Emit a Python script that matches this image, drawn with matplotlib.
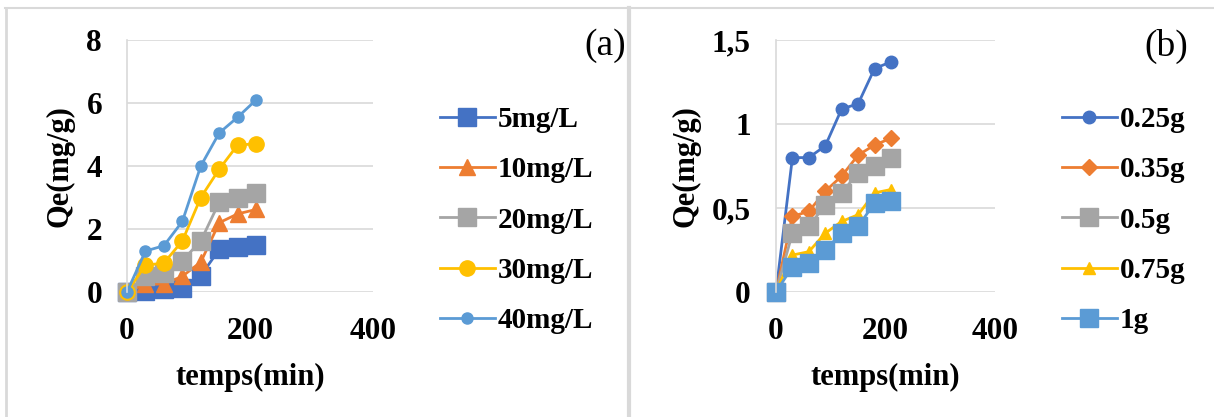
import numpy as np
import matplotlib
matplotlib.use("Agg")
import matplotlib.pyplot as plt
from matplotlib.lines import Line2D

plt.rcParams['font.family'] = ['Liberation Serif', 'DejaVu Serif']

# temps de contact (min)
temps = [0, 30, 60, 90, 120, 150, 180, 210]

# (a) effet de la concentration initiale
conc_labels = ['5mg/L', '10mg/L', '20mg/L', '30mg/L', '40mg/L']
qe_5 = [0, 0.02, 0.08, 0.12, 0.52, 1.35, 1.42, 1.5]
qe_10 = [0, 0.25, 0.25, 0.5, 0.95, 2.2, 2.48, 2.62]
qe_20 = [0, 0.5, 0.6, 1.0, 1.62, 2.85, 3.0, 3.15]
qe_30 = [0, 0.85, 0.92, 1.62, 3.0, 3.9, 4.67, 4.7]
qe_40 = [0, 1.3, 1.47, 2.24, 4.0, 5.05, 5.55, 6.1]

# (b) effet de la masse d'adsorbant
masse_labels = ['0.25g', '0.35g', '0.5g', '0.75g', '1g']
qe_025 = [0, 0.8, 0.8, 0.87, 1.09, 1.12, 1.33, 1.37]
qe_035 = [0, 0.45, 0.48, 0.6, 0.69, 0.815, 0.875, 0.915]
qe_05 = [0, 0.35, 0.39, 0.52, 0.59, 0.71, 0.75, 0.8]
qe_075 = [0, 0.22, 0.24, 0.35, 0.42, 0.46, 0.59, 0.61]
qe_1 = [0, 0.15, 0.17, 0.25, 0.35, 0.39, 0.53, 0.54]

blue = '#4472C4'
orange = '#ED7D31'
gray = '#A5A5A5'
yellow = '#FFC000'
lblue = '#5B9BD5'
grid_c = '#D9D9D9'

W, H = 1214, 417
fig = plt.figure(figsize=(W / 100, H / 100), dpi=100)

# cadres gris des deux graphiques
fig.add_artist(Line2D([5 / W, 1], [1 - 8 / H, 1 - 8 / H], color=grid_c, lw=1.5))
fig.add_artist(Line2D([6 / W, 6 / W], [0, 1 - 8 / H], color=grid_c, lw=2))
fig.add_artist(Line2D([629 / W, 629 / W], [0, 1 - 8 / H], color=grid_c, lw=3))


def make_axes(x0, x1, y0, y1):
    ax = fig.add_axes([x0 / W, 1 - y1 / H, (x1 - x0) / W, (y1 - y0) / H])
    for s in ['top', 'right', 'bottom']:
        ax.spines[s].set_visible(False)
    ax.spines['left'].set_color(grid_c)
    ax.spines['left'].set_linewidth(1.2)
    ax.grid(axis='y', color=grid_c, lw=1.2)
    ax.set_axisbelow(True)
    ax.tick_params(length=0, labelsize=22.5, pad=18)
    ax.set_xlim(0, 400)
    ax.set_xticks([0, 200, 400])
    ax.set_xlabel('temps(min)', fontsize=22, fontweight='bold')
    ax.set_ylabel('Qe(mg/g)', fontsize=22, fontweight='bold')
    ax.xaxis.set_label_coords(0.5, -0.28)
    return ax


leg_kw = dict(loc='center left', frameon=False,
              prop={'size': 21, 'weight': 'bold'}, handlelength=1.9,
              handletextpad=0.1, labelspacing=0.8, borderaxespad=0)

# ---- (a)
ax1 = make_axes(127, 373, 40, 292)
series_a = [(qe_5, blue, 's', 13), (qe_10, orange, '^', 12),
            (qe_20, gray, 's', 13), (qe_30, yellow, 'o', 11),
            (qe_40, lblue, 'o', 8)]
for (y, c, m, ms), lab in zip(series_a, conc_labels):
    ax1.plot(temps, y, color=c, marker=m, ms=ms, lw=2, label=lab, clip_on=False)
ax1.set_ylim(0, 8)
ax1.set_yticks([0, 2, 4, 6, 8])
for lab in ax1.get_xticklabels() + ax1.get_yticklabels():
    lab.set_fontweight('bold')
ax1.yaxis.set_label_coords(-0.215, 0.5)
ax1.legend(bbox_to_anchor=(428 / W, 1 - 220 / H),
           bbox_transform=fig.transFigure, **leg_kw)
fig.text(605 / W, 1 - 46 / H, '(a)', fontsize=27, ha='center', va='center')

# ---- (b)
ax2 = make_axes(776, 995, 40, 292)
series_b = [(qe_025, blue, 'o', 9), (qe_035, orange, 'D', 8.5),
            (qe_05, gray, 's', 13), (qe_075, yellow, '^', 9),
            (qe_1, lblue, 's', 13)]
for (y, c, m, ms), lab in zip(series_b, masse_labels):
    ax2.plot(temps, y, color=c, marker=m, ms=ms, lw=2, label=lab, clip_on=False)
ax2.set_ylim(0, 1.5)
ax2.set_yticks([0, 0.5, 1, 1.5])
ax2.set_yticklabels(['0', '0,5', '1', '1,5'])
for lab in ax2.get_xticklabels() + ax2.get_yticklabels():
    lab.set_fontweight('bold')
ax2.yaxis.set_label_coords(-0.345, 0.5)
ax2.legend(bbox_to_anchor=(1050 / W, 1 - 220 / H),
           bbox_transform=fig.transFigure, **leg_kw)
fig.text(1166 / W, 1 - 46 / H, '(b)', fontsize=27, ha='center', va='center')

fig.savefig('out.png', dpi=100, facecolor='white')
